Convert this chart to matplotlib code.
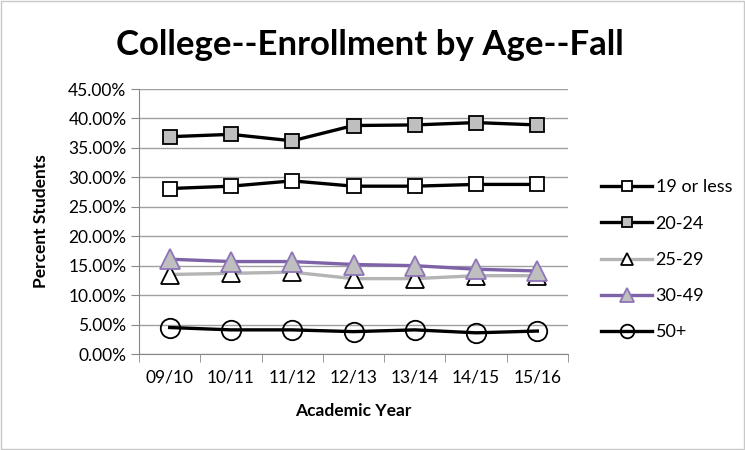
import matplotlib
matplotlib.use("Agg")
import matplotlib.pyplot as plt
from matplotlib.patches import Rectangle
from matplotlib.ticker import FuncFormatter, MultipleLocator

plt.rcParams['font.family'] = ['Lato', 'DejaVu Sans']

years = ["09/10", "10/11", "11/12", "12/13", "13/14", "14/15", "15/16"]
s19 = [28.1, 28.5, 29.4, 28.5, 28.5, 28.8, 28.8]
s20 = [36.9, 37.3, 36.2, 38.8, 38.9, 39.3, 38.9]
s25 = [13.5, 13.7, 13.9, 12.8, 12.8, 13.3, 13.3]
s30 = [16.1, 15.7, 15.7, 15.2, 15.0, 14.4, 14.1]
s50 = [4.5, 4.1, 4.1, 3.8, 4.1, 3.6, 3.9]
labels = ["19 or less", "20-24", "25-29", "30-49", "50+"]

fig = plt.figure(figsize=(7.45, 4.5), dpi=100)
ax = fig.add_axes([0.1866, 0.2133, 0.5758, 0.5889])
fig.patches.append(Rectangle((0.002, 0.002), 0.996, 0.996, transform=fig.transFigure,
                             fill=False, edgecolor='#c8c8c8', linewidth=1))

x = list(range(len(years)))
lw = 2.4
ax.plot(x, s19, color='black', lw=lw, marker='s', ms=10.5, mfc='white', mec='black', mew=1.3, label=labels[0], zorder=3)
ax.plot(x, s20, color='black', lw=lw, marker='s', ms=10.5, mfc='#bfbfbf', mec='black', mew=1.3, label=labels[1], zorder=3)
ax.plot(x, s25, color='#b4b4b4', lw=lw, marker='^', ms=13, mfc='white', mec='black', mew=1.3, label=labels[2], zorder=3)
ax.plot(x, s30, color='#7d62a8', lw=lw, marker='^', ms=14, mfc='#bfbfbf', mec='#8e74b8', mew=1.3, label=labels[3], zorder=4)
ax.plot(x, s50, color='black', lw=lw, marker='o', ms=14, mfc='none', mec='black', mew=1.3, label=labels[4], zorder=3)

ax.set_xlim(-0.5, len(years) - 0.5)
ax.set_ylim(0, 45)
ax.yaxis.set_major_locator(MultipleLocator(5))
ax.yaxis.set_major_formatter(FuncFormatter(lambda v, p: f"{v:.2f}%"))
ax.set_xticks(x)
ax.set_xticklabels(years)
ax.set_xticks([i - 0.5 for i in range(len(years) + 1)], minor=True)
ax.tick_params(axis='x', which='major', length=0, labelsize=12.5, pad=11)
ax.tick_params(axis='x', which='minor', length=6, color='#888888')
ax.tick_params(axis='y', length=6, color='#888888', labelsize=12.5, pad=3)
ax.grid(axis='y', color='#a0a0a0', lw=1)
ax.set_axisbelow(True)
for s in ['top', 'right']:
    ax.spines[s].set_visible(False)
for s in ['left', 'bottom']:
    ax.spines[s].set_color('#888888')

ax.set_ylabel("Percent Students", fontsize=12.5, fontweight='bold', labelpad=14)
ax.set_xlabel("Academic Year", fontsize=12.5, fontweight='bold', labelpad=13)
fig.text(0.497, 0.90, "College--Enrollment by Age--Fall", fontsize=25, fontweight='bold',
         ha='center', va='center')

leg = ax.legend(loc='center left', bbox_to_anchor=(1.04, 0.355), frameon=False,
                fontsize=13, markerscale=0.7, handlelength=2.8, labelspacing=1.12,
                handletextpad=0.2)

fig.savefig("out.png", dpi=100)
